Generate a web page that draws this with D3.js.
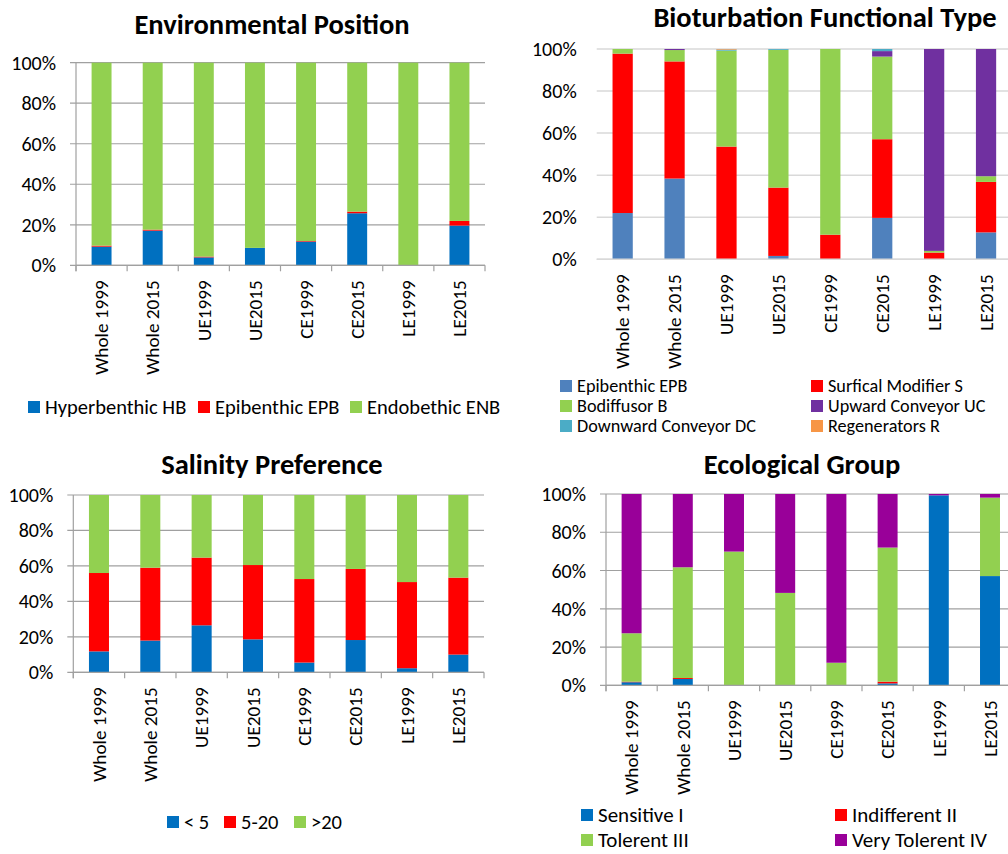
<!DOCTYPE html>
<html>
<head>
<meta charset="utf-8">
<script src="https://cdn.jsdelivr.net/npm/d3@7"></script>
<style>
  html, body { margin: 0; padding: 0; background: #fff; }
  svg { display: block; font-family: Calibri, Carlito, Lato, sans-serif; }
</style>
</head>
<body>
<svg id="chart" width="1008" height="854"></svg>
<script>
// ---------------- data ----------------
const categories = ["Whole 1999", "Whole 2015", "UE1999", "UE2015", "CE1999", "CE2015", "LE1999", "LE2015"];
const yTicks = [0, 0.2, 0.4, 0.6, 0.8, 1];

// Environmental Position
const envNames = ["Hyperbenthic HB", "Epibenthic EPB", "Endobethic ENB"];
const envHB  = [9.2, 17.1, 3.9, 8.6, 11.7, 25.7, 0, 19.6];
const envEPB = [0.5, 0.5, 0.4, 0, 0.3, 0.8, 0, 2.3];
const envENB = [90.3, 82.4, 95.7, 91.4, 88.0, 73.5, 100, 78.1];

// Bioturbation Functional Type
const bioNames = ["Epibenthic EPB", "Surfical Modifier S", "Bodiffusor B", "Upward Conveyor UC", "Downward Conveyor DC", "Regenerators  R"];
const bioEPB = [22.0, 38.4, 0, 1.6, 0, 19.7, 0, 12.8];
const bioS   = [75.8, 55.7, 53.6, 32.5, 11.7, 37.4, 3.2, 24.0];
const bioB   = [2.2, 5.4, 45.6, 65.5, 88.3, 39.3, 0.8, 2.7];
const bioUC  = [0, 0.5, 0, 0, 0, 2.6, 96.0, 60.5];
const bioDC  = [0, 0, 0.5, 0.4, 0, 1.0, 0, 0];
const bioR   = [0, 0, 0.3, 0, 0, 0, 0, 0];

// Salinity Preference
const salNames = ["< 5", "5-20", ">20"];
const salLt5   = [11.8, 17.9, 26.5, 18.6, 5.5, 18.2, 2.3, 10.0];
const sal5to20 = [44.2, 41.1, 38.2, 41.9, 47.1, 40.1, 48.6, 43.4];
const salGt20  = [44.0, 41.0, 35.3, 39.5, 47.4, 41.7, 49.1, 46.6];

// Ecological Group
const ecoNames = ["Sensitive I", "Indifferent  II", "Tolerent III", "Very Tolerent IV"];
const ecoI   = [1.6, 3.3, 0, 0, 0, 1.0, 99.3, 57.1];
const ecoII  = [0.3, 0.5, 0, 0, 0, 0.9, 0, 0];
const ecoIII = [25.3, 57.9, 69.9, 48.3, 11.8, 70.1, 0, 41.0];
const ecoIV  = [72.8, 38.3, 30.1, 51.7, 88.2, 28.0, 0.7, 1.9];

// ---------------- drawing ----------------
const svg = d3.select("#chart");

function drawPanel(cfg) {
  const g = svg.append("g");
  const keys = cfg.names;
  const rows = categories.map((c, i) => {
    const r = { cat: c };
    cfg.series.forEach((s, k) => r[keys[k]] = s[i]);
    return r;
  });

  const stacked = d3.stack().keys(keys).offset(d3.stackOffsetExpand)(rows);

  const x = d3.scaleBand()
    .domain(categories)
    .range([cfg.left, cfg.right])
    .paddingInner(0.61)
    .paddingOuter(0.305);

  const y = d3.scaleLinear().domain([0, 1]).range([cfg.bottom, cfg.top]);
  const gridColor = cfg.light ? "#d9d9d9" : "#a0a0a0";

  // gridlines
  g.append("g")
    .selectAll("line")
    .data(yTicks)
    .join("line")
    .attr("x1", cfg.light ? cfg.left : cfg.left - 6)
    .attr("x2", cfg.right)
    .attr("y1", d => y(d))
    .attr("y2", d => y(d))
    .attr("stroke", gridColor)
    .attr("stroke-width", cfg.light ? 1.5 : 1.2);

  // y tick labels
  g.append("g")
    .selectAll("text")
    .data(yTicks)
    .join("text")
    .attr("x", cfg.left - 20)
    .attr("y", d => y(d))
    .attr("dy", "0.35em")
    .attr("text-anchor", "end")
    .attr("font-size", 20)
    .attr("fill", "#000")
    .text(d3.format(".0%"));

  // axis line + ticks (not on the light panel)
  if (!cfg.light) {
    g.append("line")
      .attr("x1", cfg.left).attr("x2", cfg.left)
      .attr("y1", cfg.top).attr("y2", cfg.bottom + 6)
      .attr("stroke", gridColor).attr("stroke-width", 1.2);
    const step = x.step();
    g.append("g")
      .selectAll("line")
      .data(d3.range(categories.length + 1))
      .join("line")
      .attr("x1", i => cfg.left + i * step)
      .attr("x2", i => cfg.left + i * step)
      .attr("y1", cfg.bottom)
      .attr("y2", cfg.bottom + 6)
      .attr("stroke", gridColor).attr("stroke-width", 1.2);
  }

  // bars
  g.append("g")
    .selectAll("g")
    .data(stacked)
    .join("g")
    .attr("fill", (d, i) => cfg.colors[i])
    .selectAll("rect")
    .data(d => d)
    .join("rect")
    .attr("x", d => x(d.data.cat))
    .attr("width", x.bandwidth())
    .attr("y", d => y(d[1]))
    .attr("height", d => Math.max(0, y(d[0]) - y(d[1])));

  // x axis line drawn over the bars
  g.append("line")
    .attr("x1", cfg.left).attr("x2", cfg.right)
    .attr("y1", cfg.bottom).attr("y2", cfg.bottom)
    .attr("stroke", gridColor)
    .attr("stroke-width", cfg.light ? 1.5 : 1.2);

  // category labels, rotated
  g.append("g")
    .selectAll("text")
    .data(categories)
    .join("text")
    .attr("transform", d => `translate(${x(d) + x.bandwidth() / 2},${cfg.bottom + 15}) rotate(-90)`)
    .attr("dy", "0.35em")
    .attr("text-anchor", "end")
    .attr("font-size", 19.2)
    .attr("fill", "#000")
    .text(d => d);

  // title
  g.append("text")
    .attr("x", cfg.titleX)
    .attr("y", cfg.titleY)
    .attr("text-anchor", "middle")
    .attr("font-size", 28.5)
    .attr("font-weight", "bold")
    .attr("fill", "#000")
    .text(cfg.title);

  // legend
  const leg = g.append("g")
    .selectAll("g")
    .data(keys)
    .join("g")
    .attr("transform", (d, i) => `translate(${cfg.legendPos[i][0]},${cfg.legendPos[i][1]})`);
  leg.append("rect")
    .attr("x", 0).attr("y", -6)
    .attr("width", 12).attr("height", 12)
    .attr("fill", (d, i) => cfg.colors[i]);
  leg.append("text")
    .attr("x", 17)
    .attr("dy", "0.35em")
    .attr("font-size", cfg.legendFs)
    .attr("fill", "#000")
    .text(d => d);
}

drawPanel({
  title: "Environmental Position", titleX: 272, titleY: 34,
  left: 76, right: 485, top: 62.7, bottom: 265.3, legendFs: 20.5,
  names: envNames, series: [envHB, envEPB, envENB],
  colors: ["#0070c0", "#ff0000", "#92d050"],
  legendPos: [[28, 407], [198, 407], [350, 407]]
});

drawPanel({
  title: "Bioturbation Functional Type", titleX: 825, titleY: 27, light: true,
  left: 596.7, right: 1012, top: 49, bottom: 259.3, legendFs: 18.2,
  names: bioNames, series: [bioEPB, bioS, bioB, bioUC, bioDC, bioR],
  colors: ["#4f81bd", "#ff0000", "#92d050", "#7030a0", "#4bacc6", "#f79646"],
  legendPos: [[560, 386], [811, 386], [560, 406], [811, 406], [560, 426], [811, 426]]
});

drawPanel({
  title: "Salinity Preference", titleX: 272, titleY: 474,
  left: 73.3, right: 484, top: 495, bottom: 672.3, legendFs: 20.5,
  names: salNames, series: [salLt5, sal5to20, salGt20],
  colors: ["#0070c0", "#ff0000", "#92d050"],
  legendPos: [[167, 822], [224, 822], [294, 822]]
});

drawPanel({
  title: "Ecological Group", titleX: 802, titleY: 474,
  left: 606, right: 1015.6, top: 494, bottom: 685.3, legendFs: 21,
  names: ecoNames, series: [ecoI, ecoII, ecoIII, ecoIV],
  colors: ["#0070c0", "#ff0000", "#92d050", "#990099"],
  legendPos: [[581, 815], [835, 815], [581, 840], [835, 840]]
});
</script>
</body>
</html>
